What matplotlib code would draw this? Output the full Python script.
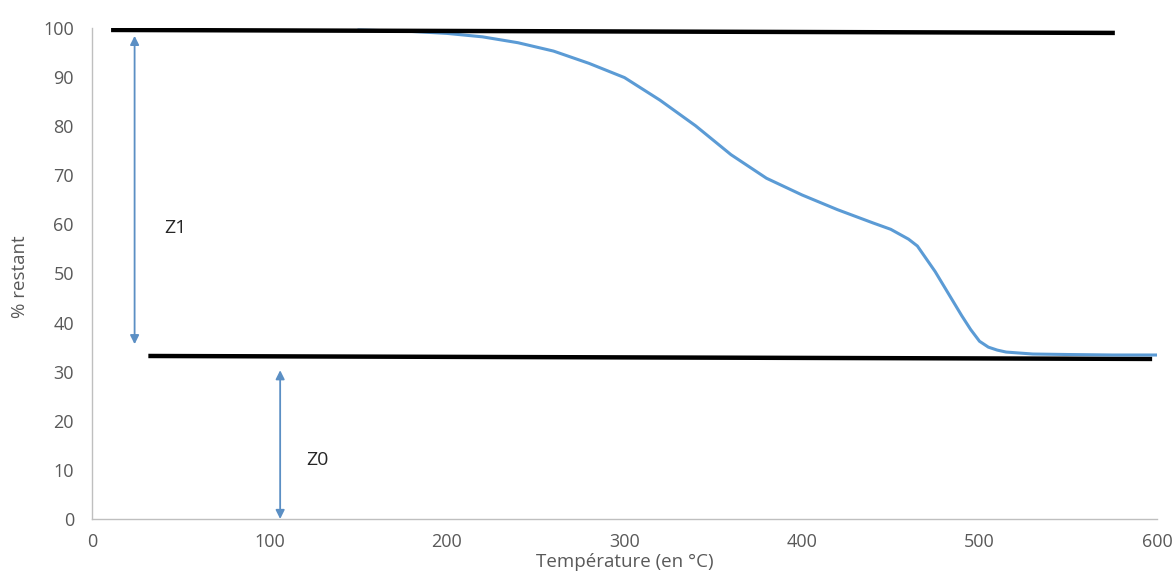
import matplotlib
matplotlib.use("Agg")
import matplotlib.pyplot as plt

# Thermogravimetric curve
temperature = [150, 180, 200, 220, 240, 260, 280, 300, 320, 340, 360, 380, 400,
               420, 440, 450, 460, 465, 470, 475, 480, 485, 490, 495, 500, 505,
               510, 515, 530, 550, 575, 600]
remaining = [99.6, 99.3, 98.9, 98.2, 97.0, 95.3, 92.8, 89.9, 85.3, 80.1, 74.2, 69.4, 66.0,
             63.0, 60.3, 59.0, 57.0, 55.6, 53.0, 50.4, 47.4, 44.4, 41.4, 38.6, 36.2, 35.0,
             34.4, 34.0, 33.6, 33.5, 33.4, 33.4]

# Reference (black) lines
top_line_x = [12, 575]
top_line_y = [99.6, 99.0]
bottom_line_x = [33, 596]
bottom_line_y = [33.2, 32.6]

# Arrows: (x, y_start, y_end)
z1_arrow = (24, 98.4, 35.6)
z0_arrow = (106, 30.3, 0.0)
z1_label = (47, 59.3, "Z1")
z0_label = (127, 12, "Z0")

x_ticks = [0, 100, 200, 300, 400, 500, 600]
y_ticks = [0, 10, 20, 30, 40, 50, 60, 70, 80, 90, 100]

plt.rcParams['font.family'] = ['Open Sans', 'DejaVu Sans']

fig = plt.figure(figsize=(11.75, 5.71), dpi=100)
ax = fig.add_axes([92 / 1175, 52 / 571, 1065 / 1175, 491 / 571])

ax.plot(temperature, remaining, color='#5b9bd5', lw=2.2, solid_capstyle='round',
        solid_joinstyle='round', zorder=2)
ax.plot(top_line_x, top_line_y, color='black', lw=3.2, zorder=3)
ax.plot(bottom_line_x, bottom_line_y, color='black', lw=3.2, zorder=1)

arrow_kw = dict(arrowstyle='<|-|>', color='#5b8fc4', lw=1.3, mutation_scale=13,
                shrinkA=0, shrinkB=0)
for xa, y0, y1 in (z1_arrow, z0_arrow):
    ax.annotate('', xy=(xa, y1), xytext=(xa, y0), arrowprops=arrow_kw)

for xl, yl, txt in (z1_label, z0_label):
    ax.text(xl, yl, txt, fontsize=14, color='#262626', ha='center', va='center')

ax.set_xlim(0, 600)
ax.set_ylim(0, 100)
ax.set_xticks(x_ticks)
ax.set_yticks(y_ticks)
ax.tick_params(axis='both', length=0, labelsize=13, labelcolor='#595959')
ax.tick_params(axis='y', pad=13)
ax.tick_params(axis='x', pad=10)

for s in ('top', 'right'):
    ax.spines[s].set_visible(False)
for s in ('left', 'bottom'):
    ax.spines[s].set_color('#bfbfbf')
    ax.spines[s].set_linewidth(1.0)

ax.set_xlabel('Température (en °C)', fontsize=13.5, color='#595959')
ax.xaxis.label.set_va('center')
ax.xaxis.set_label_coords(0.5, -0.088)
ax.set_ylabel('% restant', fontsize=13.5, color='#595959')
ax.yaxis.label.set_va('center')
ax.yaxis.set_label_coords(-0.068, 0.493)

fig.savefig('out.png', dpi=100)
